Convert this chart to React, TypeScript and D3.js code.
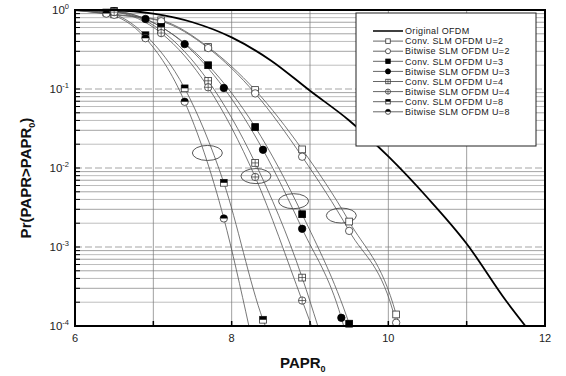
import React from "react";
import * as d3 from "d3";

// ---- data ----
const originalX = [6.0, 6.5, 7.0, 7.5, 8.0, 8.5, 9.0, 9.5, 10.0, 10.5, 11.0, 11.5, 11.75];
const originalY = [1.0, 0.99, 0.9, 0.7, 0.45, 0.23, 0.095, 0.04, 0.014, 0.0042, 0.0011, 2.1e-4, 1.0e-4];

const seriesNames = [
  "Conv. SLM OFDM U=2",
  "Bitwise SLM OFDM U=2",
  "Conv. SLM OFDM U=3",
  "Bitwise SLM OFDM U=3",
  "Conv. SLM OFDM U=4",
  "Bitwise SLM OFDM U=4",
  "Conv. SLM OFDM U=8",
  "Bitwise SLM OFDM U=8",
];
const markerKinds = [
  "squareOpen", "circleOpen", "squareFill", "circleFill",
  "squareCross", "circleCross", "squareHalf", "circleHalf",
];

// marker points
const markX = [
  [6.5, 7.1, 7.7, 8.3, 8.9, 9.5, 10.1],
  [6.5, 7.1, 7.7, 8.3, 8.9, 9.5, 10.1],
  [6.5, 7.1, 7.7, 8.3, 8.9, 9.5],
  [6.5, 6.9, 7.4, 7.9, 8.4, 8.9, 9.4],
  [6.5, 7.1, 7.7, 8.3, 8.9],
  [6.5, 7.1, 7.7, 8.3, 8.9],
  [6.4, 6.9, 7.4, 7.9, 8.4],
  [6.4, 6.9, 7.4, 7.9],
];
const markY = [
  [0.88, 0.74, 0.34, 0.097, 0.0172, 0.0021, 1.4e-4],
  [0.87, 0.72, 0.33, 0.088, 0.0139, 0.0016, 1.1e-4],
  [0.97, 0.61, 0.2, 0.033, 0.0026, 1.07e-4],
  [0.96, 0.77, 0.37, 0.103, 0.017, 0.0017, 1.27e-4],
  [0.95, 0.55, 0.127, 0.0116, 4.1e-4],
  [0.94, 0.51, 0.105, 0.0077, 2.1e-4],
  [0.93, 0.48, 0.102, 0.0065, 1.2e-4],
  [0.9, 0.44, 0.069, 0.0023],
];
// curve ends (start at the top left, end at the bottom axis)
const startY = [0.995, 0.995, 0.998, 0.998, 0.99, 0.99, 0.985, 0.98];
const endX = [10.14, 10.11, 9.51, 9.43, 9.1, 9.02, 8.43, 8.22];

// ellipse annotations (centres in data units)
const ellipseX = [7.69, 8.31, 8.79, 9.4];
const ellipseY = [0.0155, 0.0079, 0.0038, 0.0025];

const xTicks = [6, 8, 10, 12];
const yTicks = [0, -1, -2, -3, -4];

const W = 566, H = 376;
const L = 75, R = 545, T = 10, B = 326;
const FONT = "'Liberation Sans', Arial, sans-serif";

function Marker({ kind, x, y, s }: { kind: string; x: number; y: number; s: number }) {
  const h = s / 2;
  const r = s / 2 + 0.3;
  const stroke = "#333";
  if (kind.startsWith("square")) {
    const fill = kind === "squareFill" ? "#000" : "#fff";
    return (
      <g>
        <rect x={x - h} y={y - h} width={s} height={s} fill={fill} stroke={kind === "squareFill" ? "#000" : stroke} strokeWidth={0.8} />
        {kind === "squareHalf" && <rect x={x - h} y={y - h} width={s} height={h} fill="#000" />}
        {kind === "squareCross" && (
          <path d={`M${x - h},${y}H${x + h}M${x},${y - h}V${y + h}`} stroke={stroke} strokeWidth={0.7} />
        )}
      </g>
    );
  }
  const fill = kind === "circleFill" ? "#000" : "#fff";
  return (
    <g>
      <circle cx={x} cy={y} r={r} fill={fill} stroke={kind === "circleFill" ? "#000" : stroke} strokeWidth={0.8} />
      {kind === "circleHalf" && (
        <path d={`M${x - r},${y}A${r},${r} 0 0 1 ${x + r},${y}Z`} fill="#000" />
      )}
      {kind === "circleCross" && (
        <path d={`M${x - r},${y}H${x + r}M${x},${y - r}V${y + r}`} stroke={stroke} strokeWidth={0.7} />
      )}
    </g>
  );
}

export default function App() {
  const x = d3.scaleLinear().domain([6, 12]).range([L, R]);
  const y = d3.scaleLog().domain([1e-4, 1]).range([B, T]);

  const line = d3
    .line<[number, number]>()
    .x((d) => x(d[0]))
    .y((d) => y(d[1]))
    .curve(d3.curveMonotoneX);

  const original = originalX.map((v, i) => [v, originalY[i]] as [number, number]);
  const curves = seriesNames.map((_, i) => {
    const pts: [number, number][] = [[6.0, startY[i]]];
    markX[i].forEach((v, j) => pts.push([v, markY[i][j]]));
    const lastX = markX[i][markX[i].length - 1];
    if (endX[i] > lastX) pts.push([endX[i], 1e-4]);
    return pts;
  });

  const minor: number[] = [];
  for (let d = -4; d < 0; d++) for (let k = 2; k <= 9; k++) minor.push(k * Math.pow(10, d));
  const decades = [0.1, 0.01, 0.001];
  const vGrid = [7, 8, 9, 10, 11];

  const legX = 356, legY = 13, legW = 180, legH = 133;
  const rowY0 = 31, rowDy = 10.1;
  const legendRows = [{ name: "Original OFDM", kind: "" }, ...seriesNames.map((n, i) => ({ name: n, kind: markerKinds[i] }))];

  return (
    <svg width={W} height={H} style={{ position: "absolute", left: 0, top: 0, background: "#fff" }} fontFamily={FONT}>
      <defs>
        <clipPath id="plot">
          <rect x={L} y={T} width={R - L} height={B - T} />
        </clipPath>
      </defs>
      <rect width={W} height={H} fill="#fff" />

      {/* grid */}
      {minor.map((v, i) => (
        <line key={"m" + i} x1={L} x2={R} y1={y(v)} y2={y(v)} stroke={i % 2 ? "#9a9a9a" : "#b5b5b5"} strokeWidth={0.9} />
      ))}
      {decades.map((v) => (
        <line key={"d" + v} x1={L} x2={R} y1={y(v)} y2={y(v)} stroke="#c4c4c4" strokeWidth={1.6} strokeDasharray="7,3" />
      ))}
      {vGrid.map((v) => (
        <line key={"v" + v} x1={x(v)} x2={x(v)} y1={T} y2={B} stroke="#777" strokeWidth={0.7} />
      ))}

      {/* curves */}
      <g clipPath="url(#plot)">
        {curves.map((c, i) => (
          <path key={"c" + i} d={line(c) || ""} fill="none" stroke="#555" strokeWidth={0.8} />
        ))}
        <path d={line(original) || ""} fill="none" stroke="#000" strokeWidth={1.8} />
      </g>

      {/* ellipses */}
      {ellipseX.map((v, i) => (
        <ellipse key={"e" + i} cx={x(v)} cy={y(ellipseY[i])} rx={15} ry={7.5} fill="none" stroke="#444" strokeWidth={0.9} />
      ))}

      {/* markers */}
      {markX.map((xs, i) =>
        xs.map((v, j) => <Marker key={`k${i}-${j}`} kind={markerKinds[i]} x={x(v)} y={y(markY[i][j])} s={6.8} />)
      )}

      {/* axes frame and ticks */}
      {[...minor, ...decades].map((v, i) => (
        <line key={"t" + i} x1={L} x2={L + 5} y1={y(v)} y2={y(v)} stroke="#000" strokeWidth={1} />
      ))}
      {vGrid.map((v) => (
        <line key={"xt" + v} x1={x(v)} x2={x(v)} y1={B} y2={B - 5} stroke="#000" strokeWidth={1.5} />
      ))}
      <rect x={L} y={T} width={R - L} height={B - T} fill="none" stroke="#000" strokeWidth={2} />

      {/* tick labels */}
      {xTicks.map((v) => (
        <text key={"xl" + v} x={x(v)} y={B + 16} textAnchor="middle" fontSize={11} fill="#222">
          {v}
        </text>
      ))}
      {yTicks.map((p) => (
        <text key={"yl" + p} x={L - 6} y={y(Math.pow(10, p)) + 4} textAnchor="end" fontSize={11.5} fill="#222">
          10
          <tspan dy={-5} fontSize={7.5}>
            {p}
          </tspan>
        </text>
      ))}

      {/* axis titles */}
      <text x={280} y={368} fontSize={15} fontWeight="bold" fill="#111">
        PAPR
        <tspan dy={4} fontSize={9}>0</tspan>
      </text>
      <text transform="translate(31,178) rotate(-90)" textAnchor="middle" fontSize={15} fontWeight="bold" fill="#111">
        Pr(PAPR&gt;PAPR
        <tspan dy={4} fontSize={9}>0</tspan>
        <tspan dy={-4}>)</tspan>
      </text>

      {/* legend */}
      <rect x={legX} y={legY} width={legW} height={legH} fill="#fff" stroke="#222" strokeWidth={1} />
      {legendRows.map((r, i) => {
        const ry = rowY0 + i * rowDy;
        return (
          <g key={"lg" + i}>
            <line x1={373} x2={403} y1={ry} y2={ry} stroke={r.kind ? "#555" : "#000"} strokeWidth={r.kind ? 0.9 : 1.5} />
            {r.kind && <Marker kind={r.kind} x={388} y={ry} s={4.5} />}
            <text x={405} y={ry + 3.2} fontSize={9} letterSpacing={0.35} fill="#222">
              {r.name}
            </text>
          </g>
        );
      })}
    </svg>
  );
}
